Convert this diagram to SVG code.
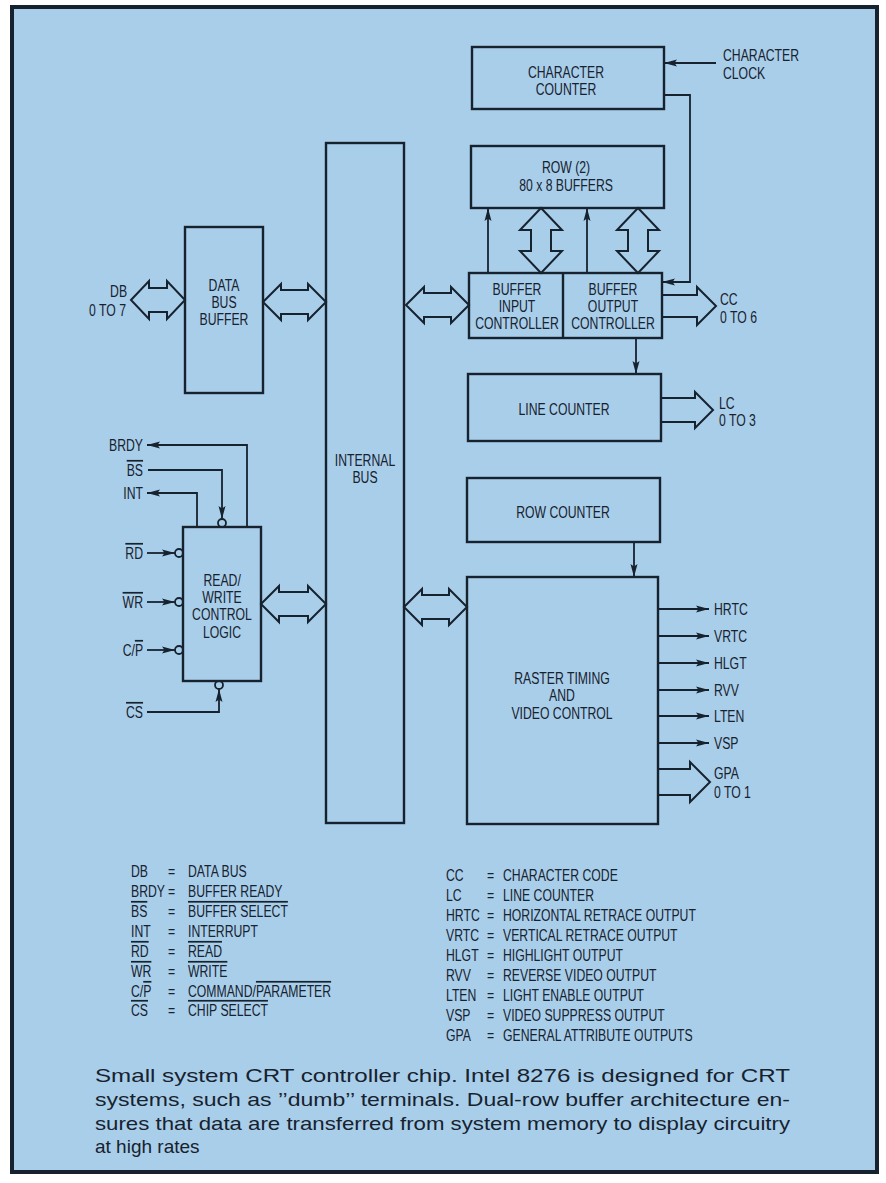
<svg xmlns="http://www.w3.org/2000/svg" width="886" height="1183" viewBox="0 0 886 1183">
<style>
.box{fill:none;stroke:#17222f;stroke-width:2.4}
.ln{fill:none;stroke:#17222f;stroke-width:1.8}
.ha{fill:none;stroke:#17222f;stroke-width:2;stroke-linejoin:miter}
.bub{fill:#a9cee9;stroke:#17222f;stroke-width:1.8}
.t{font-family:"Liberation Sans",Arial,sans-serif;font-size:17px;fill:#17222f;transform-box:fill-box;transform:scaleX(0.72)}
.m{text-anchor:middle;transform-origin:center}
.s{text-anchor:start;transform-origin:left center}
.e{text-anchor:end;transform-origin:right center}
.o{text-decoration:overline}
.cap{font-family:"Liberation Sans",Arial,sans-serif;font-size:19px;fill:#17222f}
</style>
<defs>
<marker id="ah" viewBox="0 0 13 8" refX="13" refY="4" markerWidth="13" markerHeight="8" markerUnits="userSpaceOnUse" orient="auto">
<path d="M0,0.5 L13,4 L0,7.5 L2.5,4 Z" fill="#17222f"/>
</marker>
</defs>
<rect x="0" y="0" width="886" height="1183" fill="#ffffff"/>
<rect id="frame" x="12" y="7" width="865" height="1165" fill="#a9cee9" stroke="#17222f" stroke-width="4"/>

<g id="connectors">
<path class="ha" d="M131,300 L149,281 L149,288 L167,288 L167,281 L185,300 L167,319 L167,312 L149,312 L149,319 Z"/>
<path class="ha" d="M263,302 L281,284 L281,290 L308,290 L308,284 L326,302 L308,320 L308,314 L281,314 L281,320 Z"/>
<path class="ha" d="M406,305 L424,287 L424,293 L451,293 L451,287 L469,305 L451,323 L451,317 L424,317 L424,323 Z"/>
<path class="ha" d="M261,604 L279,586 L279,592 L308,592 L308,586 L326,604 L308,622 L308,616 L279,616 L279,622 Z"/>
<path class="ha" d="M404,607 L422,589 L422,595 L449,595 L449,589 L467,607 L449,625 L449,619 L422,619 L422,625 Z"/>
<path class="ha" d="M541,208 L562,230 L551,230 L551,251 L562,251 L541,273 L520,251 L531,251 L531,230 L520,230 Z"/>
<path class="ha" d="M638,208 L659,230 L648,230 L648,251 L659,251 L638,273 L617,251 L628,251 L628,230 L617,230 Z"/>
<path class="ha" d="M662,295 L697,295 L697,287 L716,306 L697,325 L697,317 L662,317"/>
<path class="ha" d="M661,398 L695,398 L695,392 L713,410 L695,428 L695,422 L661,422"/>
<path class="ha" d="M658,769 L690,769 L690,762 L710,782 L690,802 L690,795 L658,795"/>
<path class="ln" d="M716,63 L664,63" marker-end="url(#ah)"/>
<path class="ln" d="M664,95 L690,95 L690,282 L662,282" marker-end="url(#ah)"/>
<path class="ln" d="M488,273 L488,208" marker-end="url(#ah)"/>
<path class="ln" d="M587,273 L587,208" marker-end="url(#ah)"/>
<path class="ln" d="M636,338 L636,374" marker-end="url(#ah)"/>
<path class="ln" d="M634,542 L634,577" marker-end="url(#ah)"/>
<path class="ln" d="M658,609 L709,609" marker-end="url(#ah)"/>
<path class="ln" d="M658,636 L709,636" marker-end="url(#ah)"/>
<path class="ln" d="M658,663 L709,663" marker-end="url(#ah)"/>
<path class="ln" d="M658,690 L709,690" marker-end="url(#ah)"/>
<path class="ln" d="M658,716 L709,716" marker-end="url(#ah)"/>
<path class="ln" d="M658,743 L709,743" marker-end="url(#ah)"/>
<path class="ln" d="M247,527 L247,445 L147,445" marker-end="url(#ah)"/>
<path class="ln" d="M197,527 L197,493 L147,493" marker-end="url(#ah)"/>
<path class="ln" d="M148,470 L222,470 L222,519" marker-end="url(#ah)"/>
<path class="ln" d="M147,553 L175,553" marker-end="url(#ah)"/>
<path class="ln" d="M147,602 L175,602" marker-end="url(#ah)"/>
<path class="ln" d="M147,650 L175,650" marker-end="url(#ah)"/>
<path class="ln" d="M147,712 L219,712 L219,689" marker-end="url(#ah)"/>
<circle class="bub" cx="222" cy="523" r="4"/>
<circle class="bub" cx="179" cy="553" r="4"/>
<circle class="bub" cx="179" cy="602" r="4"/>
<circle class="bub" cx="179" cy="650" r="4"/>
<circle class="bub" cx="219" cy="685" r="4"/>
</g>

<g id="character-counter">
<rect class="box" x="472" y="47" width="192" height="62"/>
<text class="t m" x="566" y="78">CHARACTER</text>
<text class="t m" x="566" y="95">COUNTER</text>
</g>
<g id="character-clock">
<text class="t s" x="723" y="61">CHARACTER</text>
<text class="t s" x="723" y="79">CLOCK</text>
</g>
<g id="row-buffers">
<rect class="box" x="471" y="146" width="193" height="62"/>
<text class="t m" x="566" y="173">ROW (2)</text>
<text class="t m" x="566" y="191">80 x 8 BUFFERS</text>
</g>
<g id="buffer-controllers">
<rect class="box" x="469" y="273" width="193" height="65"/>
<line class="box" x1="563" y1="273" x2="563" y2="338"/>
<text class="t m" x="517" y="295">BUFFER</text>
<text class="t m" x="517" y="312">INPUT</text>
<text class="t m" x="517" y="329">CONTROLLER</text>
<text class="t m" x="613" y="295">BUFFER</text>
<text class="t m" x="613" y="312">OUTPUT</text>
<text class="t m" x="613" y="329">CONTROLLER</text>
</g>
<g id="cc-label">
<text class="t s" x="720" y="305">CC</text>
<text class="t s" x="720" y="323">0 TO 6</text>
</g>
<g id="line-counter">
<rect class="box" x="468" y="374" width="193" height="67"/>
<text class="t m" x="564" y="415">LINE COUNTER</text>
</g>
<g id="lc-label">
<text class="t s" x="719" y="409">LC</text>
<text class="t s" x="719" y="426">0 TO 3</text>
</g>
<g id="row-counter">
<rect class="box" x="467" y="478" width="193" height="64"/>
<text class="t m" x="563" y="518">ROW COUNTER</text>
</g>
<g id="raster">
<rect class="box" x="467" y="577" width="191" height="247"/>
<text class="t m" x="562" y="684">RASTER TIMING</text>
<text class="t m" x="562" y="701">AND</text>
<text class="t m" x="562" y="719">VIDEO CONTROL</text>
</g>
<g id="raster-outputs">
<text class="t s" x="714" y="615">HRTC</text>
<text class="t s" x="714" y="642">VRTC</text>
<text class="t s" x="714" y="669">HLGT</text>
<text class="t s" x="714" y="696">RVV</text>
<text class="t s" x="714" y="722">LTEN</text>
<text class="t s" x="714" y="749">VSP</text>
<text class="t s" x="714" y="779">GPA</text>
<text class="t s" x="714" y="798">0 TO 1</text>
</g>
<g id="internal-bus">
<rect class="box" x="326" y="143" width="78" height="680"/>
<text class="t m" x="365" y="466">INTERNAL</text>
<text class="t m" x="365" y="483">BUS</text>
</g>
<g id="data-bus-buffer">
<rect class="box" x="185" y="227" width="78" height="166"/>
<text class="t m" x="224" y="291">DATA</text>
<text class="t m" x="224" y="308">BUS</text>
<text class="t m" x="224" y="325">BUFFER</text>
</g>
<g id="db-label">
<text class="t e" x="127" y="297">DB</text>
<text class="t e" x="126" y="316">0 TO 7</text>
</g>
<g id="rw-logic">
<rect class="box" x="183" y="527" width="78" height="154"/>
<text class="t m" x="222" y="586">READ/</text>
<text class="t m" x="222" y="603">WRITE</text>
<text class="t m" x="222" y="620">CONTROL</text>
<text class="t m" x="222" y="638">LOGIC</text>
</g>
<g id="rw-pins">
<text class="t e" x="143" y="451">BRDY</text>
<text class="t e o" x="143" y="476">BS</text>
<text class="t e" x="143" y="499">INT</text>
<text class="t e o" x="143" y="559">RD</text>
<text class="t e o" x="143" y="608">WR</text>
<text class="t e" x="143" y="656">C/<tspan class="o">P</tspan></text>
<text class="t e o" x="143" y="718">CS</text>
</g>

<g id="legend-left">
<text class="t s" x="131" y="877">DB</text><text class="t s" x="168" y="877">=</text><text class="t s" x="188" y="877">DATA BUS</text>
<text class="t s" x="131" y="897">BRDY</text><text class="t s" x="168" y="897">=</text><text class="t s" x="188" y="897">BUFFER READY</text>
<text class="t s o" x="131" y="917">BS</text><text class="t s" x="168" y="917">=</text><text class="t s o" x="188" y="917">BUFFER SELECT</text>
<text class="t s" x="131" y="937">INT</text><text class="t s" x="168" y="937">=</text><text class="t s" x="188" y="937">INTERRUPT</text>
<text class="t s o" x="131" y="957">RD</text><text class="t s" x="168" y="957">=</text><text class="t s o" x="188" y="957">READ</text>
<text class="t s o" x="131" y="977">WR</text><text class="t s" x="168" y="977">=</text><text class="t s o" x="188" y="977">WRITE</text>
<text class="t s" x="131" y="997">C/<tspan class="o">P</tspan></text><text class="t s" x="168" y="997">=</text><text class="t s" x="188" y="997">COMMAND/<tspan class="o">PARAMETER</tspan></text>
<text class="t s o" x="131" y="1016">CS</text><text class="t s" x="168" y="1016">=</text><text class="t s o" x="188" y="1016">CHIP SELECT</text>
</g>
<g id="legend-right">
<text class="t s" x="446" y="881">CC</text><text class="t s" x="487" y="881">=</text><text class="t s" x="503" y="881">CHARACTER CODE</text>
<text class="t s" x="446" y="901">LC</text><text class="t s" x="487" y="901">=</text><text class="t s" x="503" y="901">LINE COUNTER</text>
<text class="t s" x="446" y="921">HRTC</text><text class="t s" x="487" y="921">=</text><text class="t s" x="503" y="921">HORIZONTAL RETRACE OUTPUT</text>
<text class="t s" x="446" y="941">VRTC</text><text class="t s" x="487" y="941">=</text><text class="t s" x="503" y="941">VERTICAL RETRACE OUTPUT</text>
<text class="t s" x="446" y="961">HLGT</text><text class="t s" x="487" y="961">=</text><text class="t s" x="503" y="961">HIGHLIGHT OUTPUT</text>
<text class="t s" x="446" y="981">RVV</text><text class="t s" x="487" y="981">=</text><text class="t s" x="503" y="981">REVERSE VIDEO OUTPUT</text>
<text class="t s" x="446" y="1001">LTEN</text><text class="t s" x="487" y="1001">=</text><text class="t s" x="503" y="1001">LIGHT ENABLE OUTPUT</text>
<text class="t s" x="446" y="1021">VSP</text><text class="t s" x="487" y="1021">=</text><text class="t s" x="503" y="1021">VIDEO SUPPRESS OUTPUT</text>
<text class="t s" x="446" y="1041">GPA</text><text class="t s" x="487" y="1041">=</text><text class="t s" x="503" y="1041">GENERAL ATTRIBUTE OUTPUTS</text>
</g>

<g id="caption">
<text class="cap" x="95" y="1082" textLength="695" lengthAdjust="spacingAndGlyphs">Small system CRT controller chip. Intel 8276 is designed for CRT</text>
<text class="cap" x="95" y="1106" textLength="695" lengthAdjust="spacingAndGlyphs">systems, such as ’’dumb’’ terminals. Dual-row buffer architecture en-</text>
<text class="cap" x="95" y="1130" textLength="695" lengthAdjust="spacingAndGlyphs">sures that data are transferred from system memory to display circuitry</text>
<text class="cap" x="95" y="1153">at high rates</text>
</g>
</svg>
